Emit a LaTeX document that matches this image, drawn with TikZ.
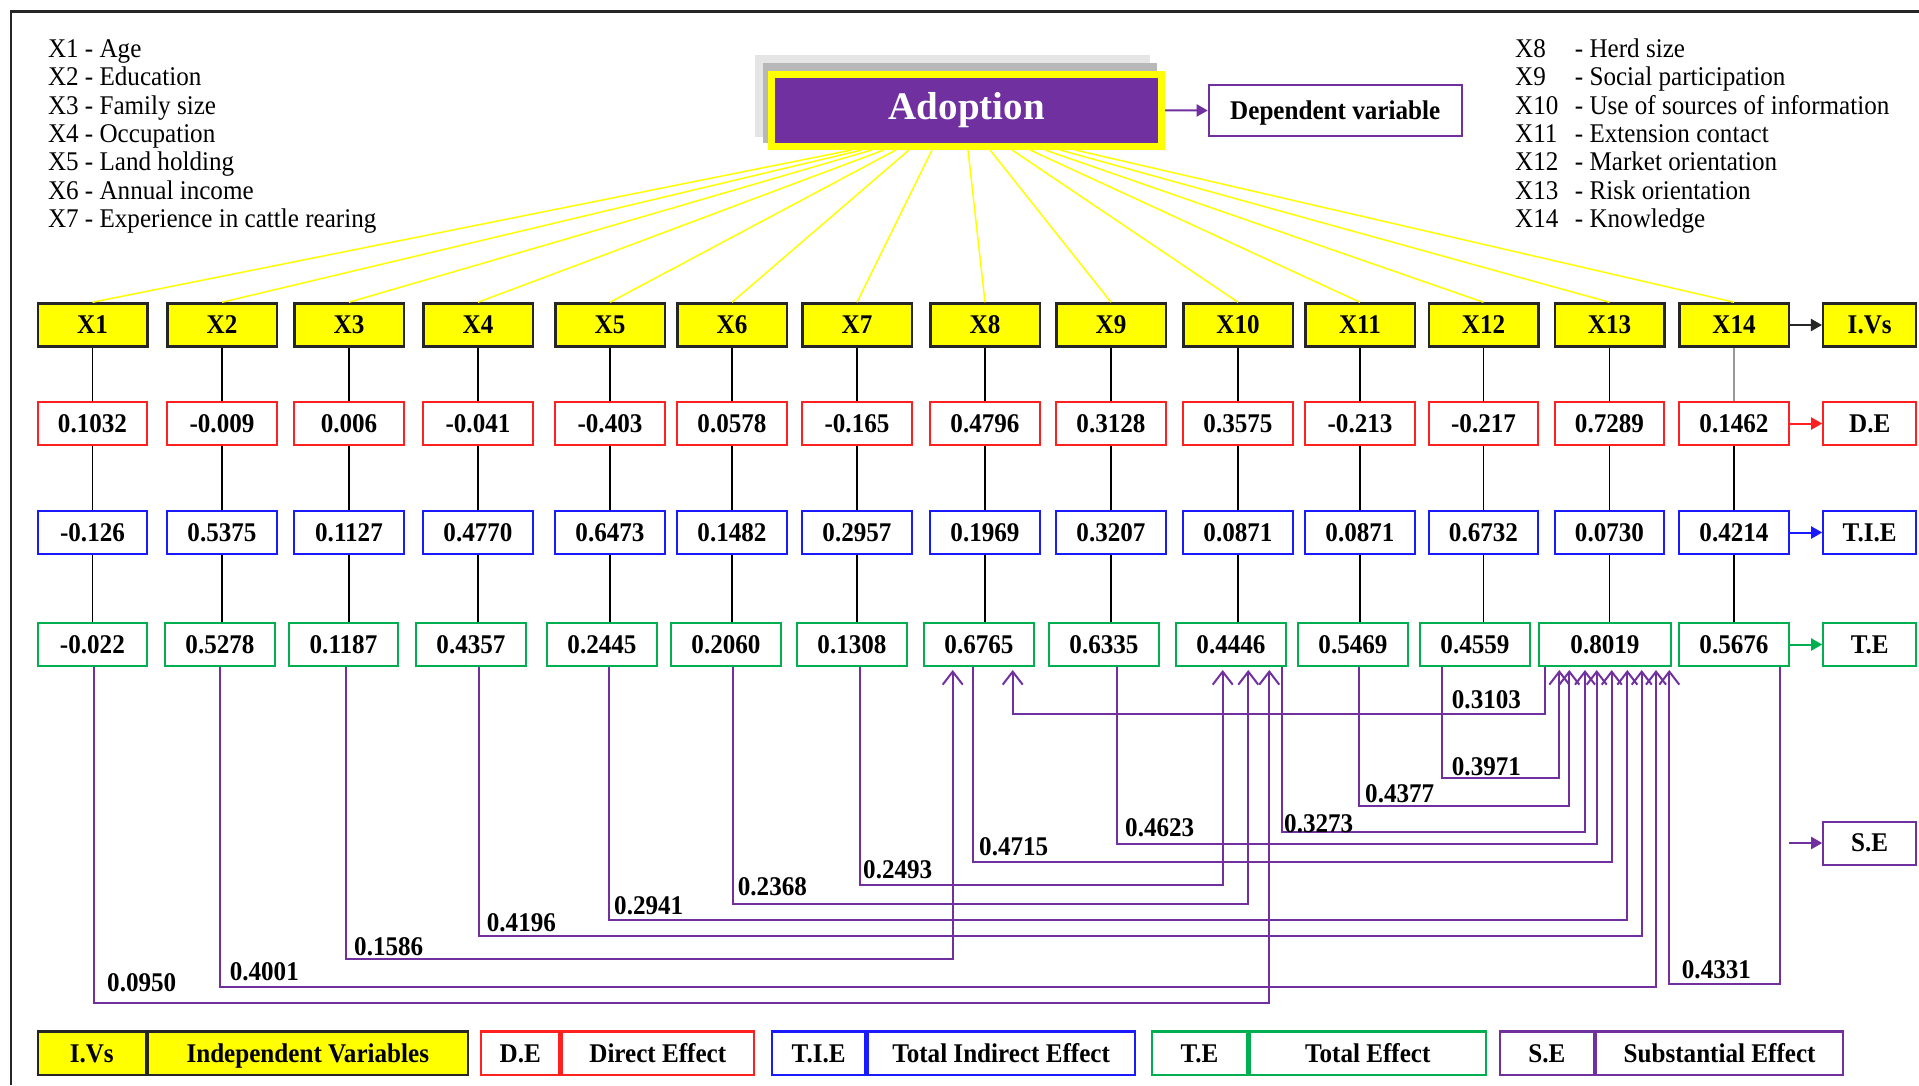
\documentclass[tikz,border=0pt]{standalone}
\usepackage{fontspec}
\setmainfont{Liberation Serif}[FakeStretch=0.93]
\newfontfamily\adfont{Liberation Serif}
\usetikzlibrary{arrows.meta}
\definecolor{cyel}{HTML}{FFFF00}
\definecolor{cred}{HTML}{FF2020}
\definecolor{cblue}{HTML}{1A1AFF}
\definecolor{cgreen}{HTML}{00B050}
\definecolor{cpur}{HTML}{7030A0}
\begin{document}
\begin{tikzpicture}[x=1pt,y=-1pt,
  txt/.style={font=\fontsize{27}{31}\selectfont},
  btxt/.style={font=\fontsize{27}{31}\selectfont\bfseries},
  cell/.style={btxt, minimum width=109.5pt, minimum height=43pt, inner sep=0pt, fill=white},
  xbox/.style={cell, draw=black!85, line width=2.5pt, fill=cyel},
  debox/.style={cell, draw=cred, line width=2pt},
  tibox/.style={cell, draw=cblue, line width=2pt},
  tebox/.style={cell, draw=cgreen, line width=2pt},
  sebox/.style={cell, draw=cpur, line width=2pt},
  rbox/.style={minimum width=93pt},
  vline/.style={line width=1.5pt, black},
  fan/.style={draw=cyel, line width=1.5pt},
  sepath/.style={draw=cpur, line width=2pt, shorten >=3pt, -{Straight Barb[length=13pt,width=20pt,line width=2pt]}},
  lbl/.style={btxt, inner sep=0pt, anchor=west},
  leg/.style={txt, inner sep=0pt, anchor=base west},
  tip/.style={-{Triangle[length=11pt,width=12pt]}, line width=2pt},
  lgbox/.style={btxt, minimum height=43.5pt, inner sep=0pt, line width=2.2pt, text height=18pt, text depth=0pt},
]
\useasboundingbox (0,0) rectangle (1919,1085);
\fill[white] (0,0) rectangle (1919,1085);
% frame
\draw[line width=1.5pt, black!85] (11,1085) -- (11,11.7);
\draw[line width=2.5pt, black!85] (10,11.7) -- (1919,11.7);

% legends
\node[leg] (l1) at (47.8,57) {X1 - Age};
\node[leg] (l2) at (47.8,85) {X2 - Education};
\node[leg] (l3) at (47.8,114.5) {X3 - Family size};
\node[leg] (l4) at (47.8,142.5) {X4 - Occupation};
\node[leg] (l5) at (47.8,170.5) {X5 - Land holding};
\node[leg] (l6) at (47.8,199.5) {X6 - Annual income};
\node[leg] (l7) at (47.8,227.5) {X7 - Experience in cattle rearing};
\node[leg] (r8) at (1515,57) {X8};
\node[leg] (r8d) at (1574.7,57) {- Herd size};
\node[leg] (r9) at (1515,85) {X9};
\node[leg] (r9d) at (1574.7,85) {- Social participation};
\node[leg] (r10) at (1515,114.5) {X10};
\node[leg] (r10d) at (1574.7,114.5) {- Use of sources of information};
\node[leg] (r11) at (1515,142.5) {X11};
\node[leg] (r11d) at (1574.7,142.5) {- Extension contact};
\node[leg] (r12) at (1515,170.5) {X12};
\node[leg] (r12d) at (1574.7,170.5) {- Market orientation};
\node[leg] (r13) at (1515,199.5) {X13};
\node[leg] (r13d) at (1574.7,199.5) {- Risk orientation};
\node[leg] (r14) at (1515,227.5) {X14};
\node[leg] (r14d) at (1574.7,227.5) {- Knowledge};

% Adoption box with shadow
\fill[black!10] (755,55) rectangle (1150,137);
\fill[black!28] (762.7,62.7) rectangle (1157.3,143.3);
\node[draw=cyel, line width=7pt, fill=cpur, minimum width=389.7pt, minimum height=72.3pt, inner sep=0pt, text=white, font=\adfont\fontsize{39}{44}\selectfont\bfseries] (adopt) at (966.7,110.3) {Adoption};
\node[btxt, draw=cpur, line width=2pt, minimum width=253pt, minimum height=50.4pt, inner sep=0pt, text height=18pt, text depth=0pt] (dv) at (1335.2,110.5) {Dependent variable};
\draw[tip, cpur] (adopt.east) -- (dv.west);

% columns
\foreach \n/\cx/\tx/\tw/\va/\vb/\vc in {
 1/92.5/92.4/109.5pt/0.1032/-0.126/-0.022,
 2/222/220/109.5pt/-0.009/0.5375/0.5278,
 3/349/343.5/109.5pt/0.006/0.1127/0.1187,
 4/478/471/109.5pt/-0.041/0.4770/0.4357,
 5/610/602/109.5pt/-0.403/0.6473/0.2445,
 6/732/726/109.5pt/0.0578/0.1482/0.2060,
 7/857/852/109.5pt/-0.165/0.2957/0.1308,
 8/985/979/109.5pt/0.4796/0.1969/0.6765,
 9/1111/1104/109.5pt/0.3128/0.3207/0.6335,
 10/1238/1231/109.5pt/0.3575/0.0871/0.4446,
 11/1360/1353/109.5pt/-0.213/0.0871/0.5469,
 12/1483.5/1475/109.5pt/-0.217/0.6732/0.4559,
 13/1609.5/1605/132.5pt/0.7289/0.0730/0.8019,
 14/1734/1734/109.5pt/0.1462/0.4214/0.5676}{
 \node[xbox] (x\n) at (\cx,325) {X\n};
 \node[debox] (de\n) at (\cx,423.5) {\va};
 \node[tibox] (ti\n) at (\cx,532.5) {\vb};
 \node[tebox, minimum width=\tw] (te\n) at (\tx,644.5) {\vc};
 \draw[vline] (x\n.south) -- (de\n.north);
 \draw[vline] (de\n.south) -- (ti\n.north);
 \draw[vline] (ti\n.south) -- (ti\n.south |- te\n.north);
}
\draw[line width=1.5pt, black!40] (x14.south) -- (de14.north);

% fan lines from Adoption
\foreach \n/\sx in {1/852,2/862,3/872,4/884,5/896,6/909,7/932,8/968,9/990,10/1012,11/1030,12/1045,13/1060,14/1075}{
 \draw[fan] (adopt.south -| \sx,0) -- (x\n.north);
}

% right-hand labels
\node[xbox, rbox] (ivs) at (1869.7,325) {I.Vs};
\node[debox, rbox] (delab) at (1869.7,423.5) {D.E};
\node[tibox, rbox] (tilab) at (1869.7,532.5) {T.I.E};
\node[tebox, rbox] (telab) at (1869.7,644.5) {T.E};
\node[sebox, rbox] (selab) at (1869.7,843) {S.E};
\draw[tip, black!85] (x14.east) -- (ivs.west);
\draw[tip, cred] (de14.east) -- (delab.west);
\draw[tip, cblue] (ti14.east) -- (tilab.west);
\draw[tip, cgreen] (te14.east) -- (telab.west);
\coordinate (sestart) at (1789,843);
\draw[tip, cpur] (sestart) -- (selab.west);

% substantial effect connectors
\foreach \s/\xs/\yh/\t/\xt in {
 1/93.7/1003/10/1269.3,
 2/220.4/986.7/13/1656,
 3/346/959/8/952.7,
 4/479.4/936/13/1641.7,
 5/609/920/13/1627.3,
 6/733.4/904/10/1248.3,
 7/860/885/10/1222.7,
 8/973.3/861.7/13/1611.7,
 9/1116.7/844/13/1596.7,
 10/1281.7/832/13/1585,
 11/1359.3/806/13/1569.3,
 12/1441.7/778.3/13/1559.3,
 13/1545/714/8/1012.7,
 14/1780/984/13/1669.3}{
 \draw[sepath] (te\s.south -| \xs,0) |- (\xt,\yh) -- (te\t.south -| \xt,0);
}
\foreach \k/\v/\lx/\ly in {
 1/0.0950/107/983, 2/0.4001/229.6/972, 3/0.1586/354/946.7, 4/0.4196/486.7/923,
 5/0.2941/614/905.7, 6/0.2368/737.7/886.7, 7/0.2493/863/870, 8/0.4715/979/847,
 9/0.4623/1125/828, 10/0.3273/1284/823.3, 11/0.4377/1365/794, 12/0.3971/1451.7/766.7,
 13/0.3103/1451.7/700, 14/0.4331/1681.7/970}{
 \node[lbl] (sl\k) at (\lx,\ly) {\v};
}

% bottom legend
\node[lgbox, draw=black!85, fill=cyel, minimum width=108pt] (lg1a) at (91.8,1053.3) {I.Vs};
\node[lgbox, draw=black!85, fill=cyel, minimum width=319.6pt, anchor=west] (lg1b) at (lg1a.east) {Independent Variables};
\node[lgbox, draw=cred, minimum width=78.5pt] (lg2a) at (520.2,1053.3) {D.E};
\node[lgbox, draw=cred, minimum width=192.3pt, anchor=west] (lg2b) at (lg2a.east) {Direct Effect};
\node[lgbox, draw=cblue, minimum width=93.3pt] (lg3a) at (818.7,1053.3) {T.I.E};
\node[lgbox, draw=cblue, minimum width=267.1pt, anchor=west] (lg3b) at (lg3a.east) {Total Indirect Effect};
\node[lgbox, draw=cgreen, minimum width=95.7pt] (lg4a) at (1199.5,1053.3) {T.E};
\node[lgbox, draw=cgreen, minimum width=236.4pt, anchor=west] (lg4b) at (lg4a.east) {Total Effect};
\node[lgbox, draw=cpur, minimum width=93.5pt] (lg5a) at (1546.9,1053.3) {S.E};
\node[lgbox, draw=cpur, minimum width=247.5pt, anchor=west] (lg5b) at (lg5a.east) {Substantial Effect};
\end{tikzpicture}
\end{document}
